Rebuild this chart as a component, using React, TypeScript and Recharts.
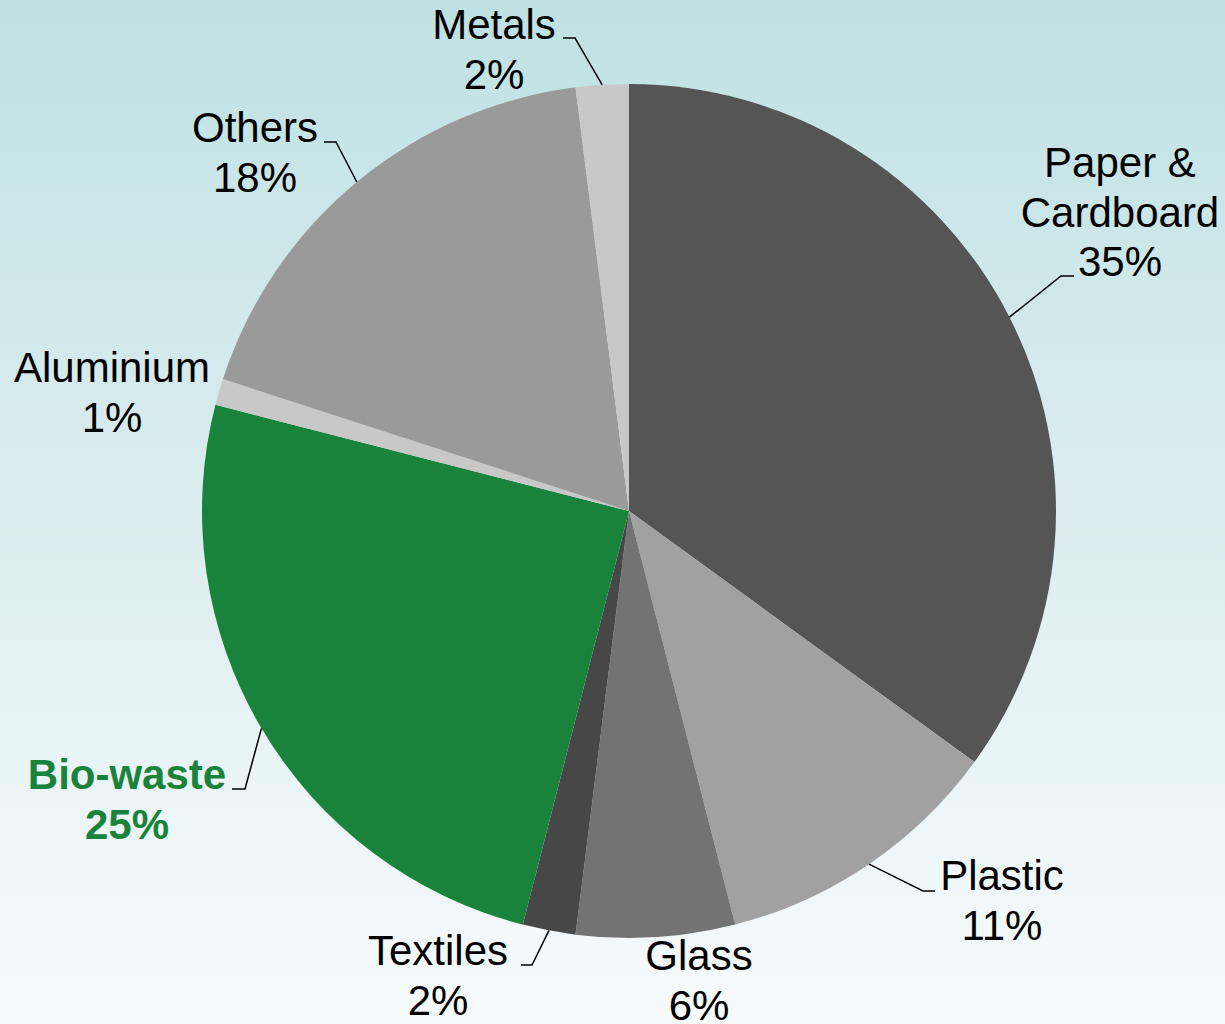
import React from "react";
import { PieChart, Pie, Cell } from "recharts";

const categories = ["Paper &\nCardboard", "Plastic", "Glass", "Textiles", "Bio-waste", "Aluminium", "Others", "Metals"];
const shares = [35, 11, 6, 2, 25, 1, 18, 2];
const colors = ["#555555", "#a1a1a1", "#737373", "#474747", "#1a833b", "#c8c8c8", "#9a9a9a", "#c8c8c8"];

const data = categories.map((name, i) => ({ name, value: shares[i] }));

// label layout (text centre x, first baseline y, optional leader elbow)
const LABEL_LAYOUT: Record<string, { x: number; y: number; elbow?: [number, number, number] }> = {
  "Paper &\nCardboard": { x: 1120, y: 177, elbow: [1061, 276, 1074] },
  Plastic: { x: 1002, y: 890, elbow: [923, 891, 935] },
  Glass: { x: 699, y: 970 },
  Textiles: { x: 438, y: 965, elbow: [532, 965, 521] },
  "Bio-waste": { x: 127, y: 789, elbow: [245, 789, 232] },
  Aluminium: { x: 112, y: 382 },
  Others: { x: 255, y: 142, elbow: [336, 142, 324] },
  Metals: { x: 494, y: 39, elbow: [575, 38, 563] },
};

const RADIAN = Math.PI / 180;
const LINE_H = 49.5;

const renderLabel = (props: any) => {
  const { cx, cy, midAngle, outerRadius, name, value } = props;
  const layout = LABEL_LAYOUT[name];
  if (!layout) return null;
  const lines = String(name).split("\n");
  lines.push(`${value}%`);
  const isBio = name === "Bio-waste";
  const px = cx + outerRadius * Math.cos(-midAngle * RADIAN);
  const py = cy + outerRadius * Math.sin(-midAngle * RADIAN);
  return (
    <g>
      {layout.elbow && (
        <polyline
          points={`${px},${py} ${layout.elbow[0]},${layout.elbow[1]} ${layout.elbow[2]},${layout.elbow[1]}`}
          fill="none"
          stroke="#000"
          strokeWidth={1.5}
        />
      )}
      <text
        x={layout.x}
        y={layout.y}
        textAnchor="middle"
        fontFamily="'Liberation Sans', Arial, sans-serif"
        fontSize={42}
        fontWeight={isBio ? "bold" : "normal"}
        fill={isBio ? "#1a833b" : "#000"}
      >
        {lines.map((l, i) => (
          <tspan key={i} x={layout.x} y={layout.y + i * LINE_H}>
            {l}
          </tspan>
        ))}
      </text>
    </g>
  );
};

export default function App() {
  return (
    <div
      style={{
        position: "absolute",
        left: 0,
        top: 0,
        width: 1225,
        height: 1024,
        background: "linear-gradient(to bottom, #bfe1e3 0%, #dcedef 50%, #f7fbfc 100%)",
        overflow: "hidden",
      }}
    >
      <PieChart width={1225} height={1024} margin={{ top: 0, right: 0, bottom: 0, left: 0 }}>
        <Pie
          data={data}
          dataKey="value"
          nameKey="name"
          cx={629}
          cy={511}
          outerRadius={427}
          startAngle={90}
          endAngle={-270}
          stroke="none"
          label={renderLabel}
          labelLine={false}
          isAnimationActive={false}
        >
          {data.map((d, i) => (
            <Cell key={d.name} fill={colors[i]} />
          ))}
        </Pie>
      </PieChart>
    </div>
  );
}
